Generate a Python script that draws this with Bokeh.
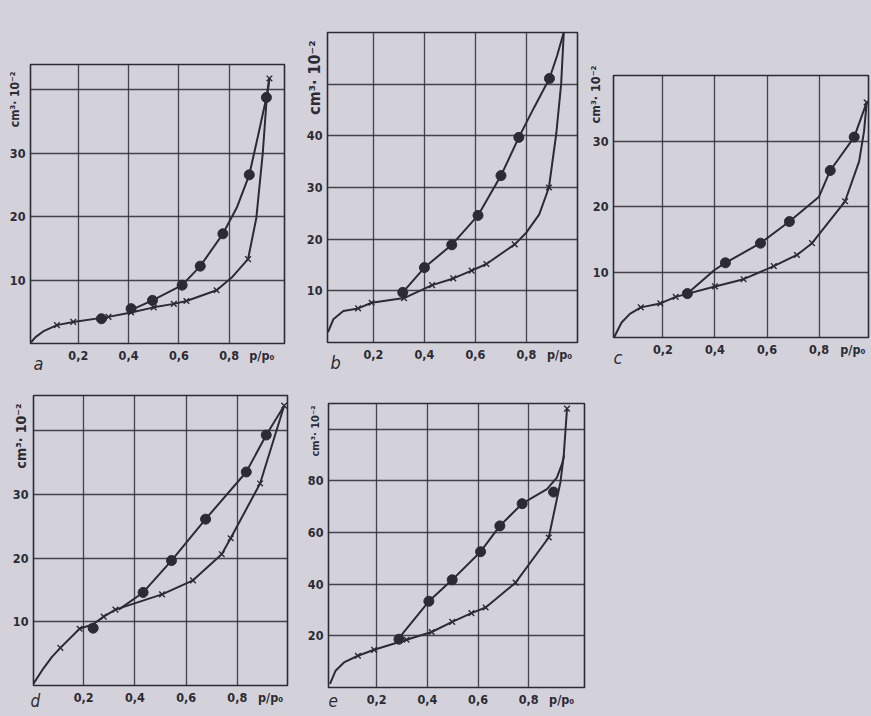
import math
from bokeh.plotting import figure
from bokeh.layouts import column, row
from bokeh.models import FixedTicker, Range1d, Title
from bokeh.embed import file_html
from bokeh.resources import INLINE

# ---------------- data ----------------
# panel a
A_CROSS_X = [0.115, 0.18, 0.32, 0.41, 0.50, 0.58, 0.63, 0.75, 0.875, 0.96]
A_CROSS_Y = [2.9, 3.4, 4.2, 4.9, 5.7, 6.25, 6.7, 8.4, 13.3, 41.8]
A_CIRC_X = [0.292, 0.41, 0.495, 0.613, 0.685, 0.775, 0.88, 0.948]
A_CIRC_Y = [3.9, 5.5, 6.8, 9.2, 12.2, 17.3, 26.6, 38.8]
A_ADS_X = [0.012, 0.03, 0.06, 0.115, 0.18, 0.32, 0.41, 0.50, 0.58, 0.63, 0.75, 0.81, 0.875, 0.908, 0.934, 0.948, 0.96]
A_ADS_Y = [0.2, 1.0, 1.9, 2.9, 3.4, 4.2, 4.9, 5.7, 6.25, 6.7, 8.4, 10.4, 13.3, 19.8, 30.2, 38.0, 41.8]
A_DES_X = [0.40, 0.495, 0.613, 0.685, 0.775, 0.83, 0.88, 0.915, 0.948, 0.96]
A_DES_Y = [5.1, 6.8, 9.2, 12.2, 17.3, 21.4, 26.6, 32.8, 38.8, 41.8]

# panel b
B_CROSS_X = [0.14, 0.193, 0.32, 0.43, 0.513, 0.585, 0.643, 0.754, 0.888, 0.95]
B_CROSS_Y = [6.6, 7.7, 8.6, 11.1, 12.4, 13.9, 15.2, 19.0, 30.0, 64.0]
B_CIRC_X = [0.315, 0.40, 0.507, 0.61, 0.70, 0.77, 0.89]
B_CIRC_Y = [9.7, 14.5, 18.9, 24.6, 32.3, 39.7, 51.1]
B_ADS_X = [0.022, 0.043, 0.082, 0.14, 0.193, 0.32, 0.43, 0.513, 0.585, 0.643, 0.754, 0.80, 0.85, 0.888, 0.917, 0.936, 0.946, 0.95]
B_ADS_Y = [2.0, 4.5, 6.1, 6.6, 7.7, 8.6, 11.1, 12.4, 13.9, 15.2, 19.0, 21.3, 24.8, 30.0, 40.5, 50.1, 59.8, 64.0]
B_DES_X = [0.305, 0.315, 0.40, 0.507, 0.61, 0.70, 0.77, 0.83, 0.89, 0.92, 0.946]
B_DES_Y = [8.9, 9.7, 14.5, 18.9, 24.6, 32.3, 39.7, 45.5, 51.1, 55.5, 60.0]

# panel c
C_CROSS_X = [0.115, 0.19, 0.249, 0.40, 0.51, 0.626, 0.715, 0.773, 0.90, 0.983]
C_CROSS_Y = [4.6, 5.2, 6.2, 7.8, 8.9, 10.9, 12.6, 14.4, 20.8, 35.9]
C_CIRC_X = [0.294, 0.44, 0.575, 0.686, 0.843, 0.935]
C_CIRC_Y = [6.7, 11.4, 14.4, 17.7, 25.5, 30.6]
C_ADS_X = [0.012, 0.041, 0.073, 0.115, 0.19, 0.249, 0.40, 0.51, 0.626, 0.715, 0.773, 0.90, 0.954, 0.973, 0.983]
C_ADS_Y = [0.0, 2.3, 3.6, 4.6, 5.2, 6.2, 7.8, 8.9, 10.9, 12.6, 14.4, 20.8, 26.9, 31.5, 35.9]
C_DES_X = [0.294, 0.398, 0.44, 0.575, 0.686, 0.80, 0.843, 0.935, 0.983]
C_DES_Y = [6.7, 10.3, 11.4, 14.4, 17.7, 21.5, 25.5, 30.6, 35.9]

# panel d
D_CROSS_X = [0.109, 0.184, 0.278, 0.324, 0.506, 0.627, 0.739, 0.774, 0.889, 0.983]
D_CROSS_Y = [5.9, 8.9, 10.8, 11.9, 14.3, 16.5, 20.6, 23.1, 31.7, 43.9]
D_CIRC_X = [0.237, 0.432, 0.543, 0.676, 0.835, 0.913]
D_CIRC_Y = [9.0, 14.6, 19.6, 26.1, 33.5, 39.3]
D_ADS_X = [0.004, 0.043, 0.076, 0.109, 0.184, 0.237, 0.278, 0.324, 0.506, 0.627, 0.739, 0.774, 0.889, 0.983]
D_ADS_Y = [0.3, 2.7, 4.5, 5.9, 8.9, 9.6, 10.8, 11.9, 14.3, 16.5, 20.6, 23.1, 31.7, 43.9]
D_DES_X = [0.337, 0.432, 0.543, 0.676, 0.835, 0.913, 0.983]
D_DES_Y = [11.9, 14.6, 19.6, 26.1, 33.5, 39.3, 43.9]

# panel e
E_CROSS_X = [0.126, 0.19, 0.318, 0.417, 0.498, 0.574, 0.63, 0.748, 0.879, 0.951]
E_CROSS_Y = [12.3, 14.6, 18.5, 21.5, 25.4, 28.8, 31.0, 40.6, 58.1, 108.0]
E_CIRC_X = [0.288, 0.406, 0.498, 0.61, 0.686, 0.774, 0.898]
E_CIRC_Y = [18.7, 33.4, 41.7, 52.6, 62.6, 71.2, 75.7]
E_ADS_X = [0.016, 0.038, 0.071, 0.126, 0.19, 0.318, 0.417, 0.498, 0.574, 0.63, 0.748, 0.879, 0.925, 0.938, 0.951]
E_ADS_Y = [1.4, 6.5, 9.7, 12.3, 14.6, 18.5, 21.5, 25.4, 28.8, 31.0, 40.6, 58.1, 79.5, 89.8, 108.0]
E_DES_X = [0.295, 0.406, 0.498, 0.61, 0.686, 0.774, 0.872, 0.911, 0.931, 0.94]
E_DES_Y = [20.0, 33.4, 41.7, 52.6, 62.6, 71.2, 76.8, 81.3, 86.5, 90.0]

X_GRID = [0.2, 0.4, 0.6, 0.8]
X_LABELS = {0.2: "0,2", 0.4: "0,4", 0.6: "0,6", 0.8: "0,8", 0.93: "p/p\u2080"}
UNIT = "cm\u00b3\u00b7 10\u207b\u00b2"

BG = "#d3d2da"
INK = "#2c2b33"
FONT = "DejaVu Sans Condensed"


def panel(letter, w, h, borders, xr, yr, y_grid, y_labels, unit_shift, unit_from_top,
          unit_size, letter_shift, letter_up, letter_size,
          ads_x, ads_y, des_x, des_y, cx, cy, ox, oy):
    left, right, top, bottom = borders
    p = figure(width=w, height=h, output_backend="svg", toolbar_location=None,
               x_range=Range1d(*xr), y_range=Range1d(*yr),
               min_border_left=left, min_border_right=right,
               min_border_top=top, min_border_bottom=bottom)
    p.background_fill_color = BG
    p.border_fill_color = BG
    p.outline_line_color = INK
    p.outline_line_width = 1.6

    p.xaxis.ticker = FixedTicker(ticks=sorted(X_LABELS.keys()))
    p.xaxis.major_label_overrides = X_LABELS
    p.yaxis.ticker = FixedTicker(ticks=y_labels)
    p.xgrid.ticker = FixedTicker(ticks=X_GRID)
    p.ygrid.ticker = FixedTicker(ticks=y_grid)
    for g in (p.xgrid, p.ygrid):
        g.grid_line_color = INK
        g.grid_line_width = 1.3
        g.grid_line_alpha = 0.85
    for ax in (p.xaxis, p.yaxis):
        ax.axis_line_color = None
        ax.major_tick_line_color = None
        ax.minor_tick_line_color = None
        ax.major_tick_out = 0
        ax.major_tick_in = 0
        ax.minor_tick_out = 0
        ax.major_label_text_font = FONT
        ax.major_label_text_font_size = "12.5px"
        ax.major_label_text_font_style = "bold"
        ax.major_label_text_color = INK
    p.xaxis.major_label_standoff = 4
    p.yaxis.major_label_standoff = 5

    p.line(ads_x, ads_y, line_color=INK, line_width=2)
    p.line(des_x, des_y, line_color=INK, line_width=2)
    p.scatter(cx, cy, marker="x", size=8, line_color=INK, line_width=1.4)
    p.scatter(ox, oy, marker="circle", size=10, fill_color=INK, line_color=INK)

    # unit label, rotated, near the top of the y axis
    p.add_layout(Title(text=UNIT, align="right", vertical_align="bottom",
                       offset=unit_from_top, standoff=-2 * unit_shift,
                       text_font=FONT, text_font_size="%spx" % unit_size,
                       text_font_style="bold", text_color=INK), "left")
    # panel letter, below left
    p.add_layout(Title(text=letter, align="left", vertical_align="top",
                       offset=letter_shift, standoff=-2 * letter_up,
                       text_font=FONT, text_font_size="%spx" % letter_size,
                       text_font_style="italic", text_color=INK), "below")
    return p


pa = panel("a", 300, 385, (30, 16, 64, 42), (0.01, 1.02), (0, 44),
           [10, 20, 30, 40], [10, 20, 30], 15.5, 7, 12, 3, 13, 18,
           A_ADS_X, A_ADS_Y, A_DES_X, A_DES_Y, A_CROSS_X, A_CROSS_Y, A_CIRC_X, A_CIRC_Y)
pb = panel("b", 284, 385, (27, 7, 32, 43), (0.02, 1.0), (0, 60),
           [10, 20, 30, 40, 50], [10, 20, 30, 40], 20.5, 8, 16, 3, 13, 18,
           B_ADS_X, B_ADS_Y, B_DES_X, B_DES_Y, B_CROSS_X, B_CROSS_Y, B_CIRC_X, B_CIRC_Y)
pc = panel("c", 286, 385, (29, 2, 75, 48), (0.01, 0.99), (0, 40),
           [10, 20, 30], [10, 20, 30], 13.5, -10, 12.5, 0, 13, 18,
           C_ADS_X, C_ADS_Y, C_DES_X, C_DES_Y, C_CROSS_X, C_CROSS_Y, C_CIRC_X, C_CIRC_Y)
pd = panel("d", 300, 329, (33, 13, 10, 29), (0.004, 0.996), (0, 45.5),
           [10, 20, 30, 40], [10, 20, 30], 19.5, 8, 14, -3, 17, 17,
           D_ADS_X, D_ADS_Y, D_DES_X, D_DES_Y, D_CROSS_X, D_CROSS_Y, D_CIRC_X, D_CIRC_Y)
pe = panel("e", 300, 329, (28, 16, 18, 27), (0.01, 1.02), (0, 110),
           [20, 40, 60, 80, 100], [20, 40, 60, 80], 17, 2, 11, 0, 16, 17,
           E_ADS_X, E_ADS_Y, E_DES_X, E_DES_Y, E_CROSS_X, E_CROSS_Y, E_CIRC_X, E_CIRC_Y)

layout = column(row(column(pa), column(pb), column(pc)),
                row(column(pd), column(pe)))

html = file_html(layout, INLINE)
html = html.replace("</head>",
                    "<style>html, body { background: %s !important; }</style></head>" % BG, 1)
open("out.html", "w").write(html)
